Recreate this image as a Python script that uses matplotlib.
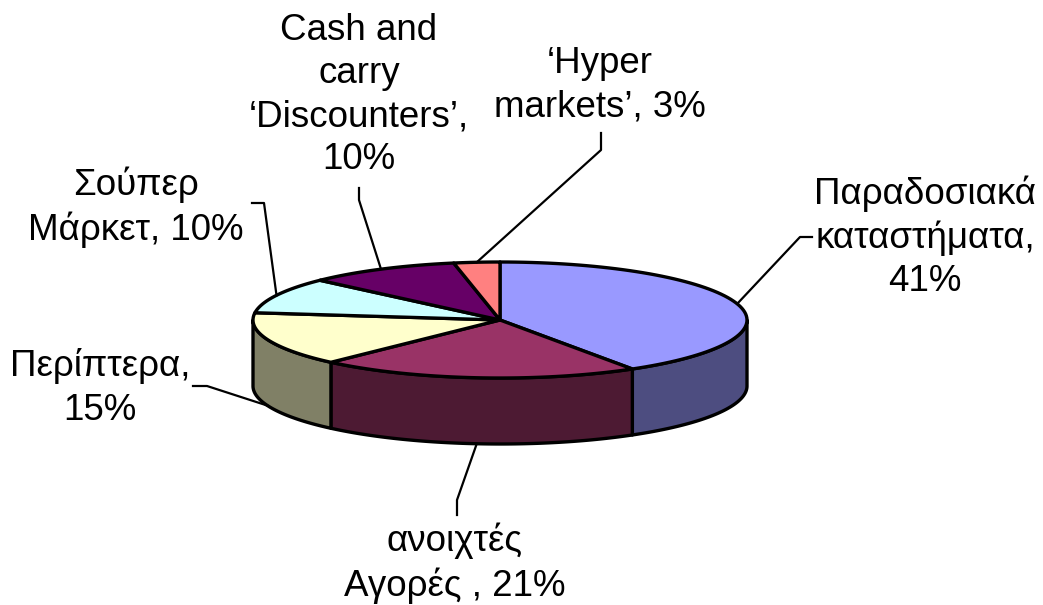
import numpy as np
import matplotlib.pyplot as plt
from matplotlib.patches import Polygon

plt.rcParams['font.family'] = ['Liberation Sans', 'DejaVu Sans']

# data
labels = ['Παραδοσιακά\nκαταστήματα,\n41%', 'ανοιχτές\nΑγορές , 21%', 'Περίπτερα,\n15%',
          'Σούπερ\nΜάρκετ, 10%', 'Cash and\ncarry\n‘Discounters’,\n10%', '‘Hyper\nmarkets’, 3%']
values = [41, 21, 15, 10, 10, 3]
colors = ['#9999FF', '#993366', '#FFFFCC', '#CCFFFF', '#660066', '#FF8080']

# layout (pixel coords, y down)
cx, cy, rx, ry, depth = 500, 320, 247, 58, 66
label_xy = [(925, 237), (455, 563), (100, 388), (136, 207), (359, 95), (600, 85)]
# leader bends: list of points after the anchor on the pie
leader_pts = [[(800, 237), (812, 237)],
              [(457, 500), (457, 515)],
              [(207, 386), (193, 386)],
              [(264, 203), (252, 203)],
              [(359, 200), (359, 188)],
              [(601, 150), (601, 133)]]

fig = plt.figure(figsize=(10.43, 6.05), dpi=100)
ax = fig.add_axes([0, 0, 1, 1])
ax.set_xlim(0, 1043)
ax.set_ylim(605, 0)
ax.axis('off')


def arc(t0, t1, dy=0, n=80):
    t = np.radians(np.linspace(t0, t1, n))
    return np.column_stack([cx + rx * np.sin(t), cy - ry * np.cos(t) + dy])


def shade(c):
    r, g, b = [int(c[i:i + 2], 16) / 255 for i in (1, 3, 5)]
    return (r * 0.5, g * 0.5, b * 0.5)


bounds = np.concatenate([[0], np.cumsum(values) / sum(values) * 360])

# sides
for i in range(len(values)):
    t0, t1 = max(bounds[i], 90), min(bounds[i + 1], 270)
    if t0 < t1:
        pts = np.vstack([arc(t0, t1), arc(t0, t1, depth)[::-1]])
        ax.add_patch(Polygon(pts, closed=True, facecolor=shade(colors[i]),
                             edgecolor='black', linewidth=2.4, joinstyle='round'))

# tops
for i in range(len(values)):
    pts = np.vstack([[cx, cy], arc(bounds[i], bounds[i + 1])])
    ax.add_patch(Polygon(pts, closed=True, facecolor=colors[i],
                         edgecolor='black', linewidth=2.4, joinstyle='round'))

# labels and leaders
for i in range(len(values)):
    mid = np.radians((bounds[i] + bounds[i + 1]) / 2)
    x0 = cx + rx * np.sin(mid)
    y0 = cy - ry * np.cos(mid) + (depth if np.cos(mid) < 0 else 0)
    line = [(x0, y0)] + leader_pts[i]
    ax.plot([p[0] for p in line], [p[1] for p in line], color='black', linewidth=1.6)
    ax.text(label_xy[i][0], label_xy[i][1], labels[i], ha='center', va='center',
            fontsize=26.5, linespacing=1.3)

fig.savefig('out.png', dpi=100)
